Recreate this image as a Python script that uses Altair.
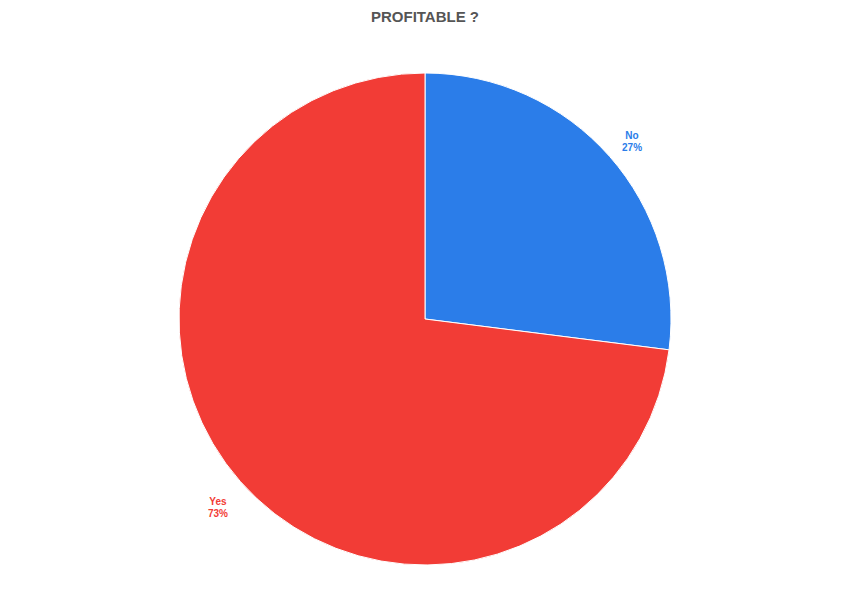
import altair as alt
import pandas as pd

answers = ["No", "Yes"]
shares = [27, 73]
colors = ["#2b7de9", "#f23c36"]

df = pd.DataFrame({"answer": answers, "share": shares,
                   "label": [f"{a}\n{s}%" for a, s in zip(answers, shares)],
                   "order": [0, 1]})

cx, cy, r = 417, 311, 246
color = alt.Color("answer:N", scale=alt.Scale(domain=answers, range=colors), legend=None)

base = alt.Chart(df).encode(
    theta=alt.Theta("share:Q", stack=True),
    order=alt.Order("order:Q"),
)

shadow = alt.Chart(pd.DataFrame({"v": [1]})).mark_arc(
    radius=r + 1, color="#bbbbbb", opacity=0.6
).encode(theta=alt.Theta("v:Q"), x=alt.value(cx + 2), y=alt.value(cy + 2))

pie = base.mark_arc(radius=r, stroke="white", strokeWidth=1).encode(
    color=color, x=alt.value(cx), y=alt.value(cy)
)

labels = base.mark_text(radius=276, fontSize=10, fontWeight="bold",
                        font="Liberation Sans", lineBreak="\n").encode(
    text="label:N", color=color, x=alt.value(cx), y=alt.value(cy)
)

title = alt.Chart(pd.DataFrame({"t": ["PROFITABLE ?"]})).mark_text(
    fontSize=15, fontWeight="bold", color="#555555", font="Liberation Sans"
).encode(text="t:N", x=alt.value(cx), y=alt.value(9))

chart = alt.layer(shadow, pie, labels, title).properties(
    width=834, height=596, padding=0, autosize=alt.AutoSizeParams(type="none")
).configure_view(strokeWidth=0)

chart.save("out.html", embed_options={"renderer": "svg", "actions": False})
